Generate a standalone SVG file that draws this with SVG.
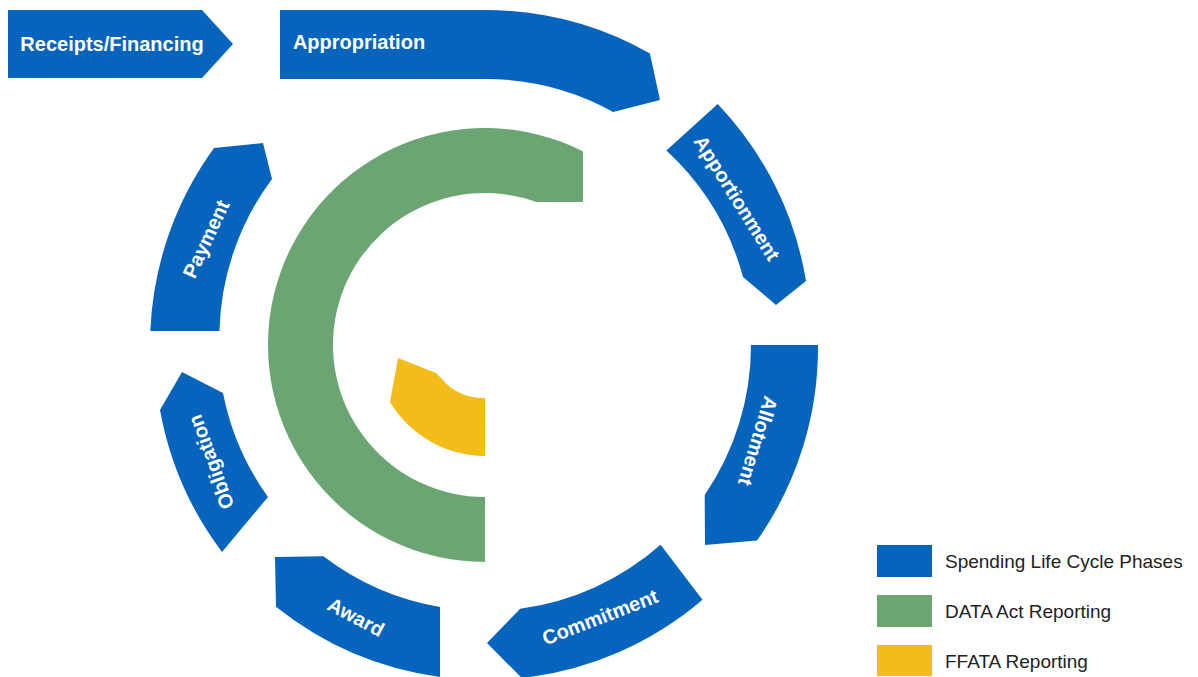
<svg xmlns="http://www.w3.org/2000/svg" width="1198" height="677" viewBox="0 0 1198 677">
<style>
.ph{fill:#0764BC;}
.da{fill:#6CA574;}
.ff{fill:#F2BC1B;}
.lb{font-family:"Liberation Sans",Arial,sans-serif;font-weight:bold;font-size:20px;fill:#FFFFFF;text-anchor:middle;dominant-baseline:central;}
.lg{font-family:"Liberation Sans",Arial,sans-serif;font-size:19px;fill:#222222;}
</style>
<rect width="1198" height="677" fill="#FFFFFF"/>
<g id="connectors"/>
<g id="receipts-financing">
<path class="ph" d="M8 10 L202 10 L233 44 L202 78 L8 78 Z"/>
<text class="lb" x="112" y="44" font-size="19.5">Receipts/Financing</text>
</g>
<g id="appropriation">
<path class="ph" d="M280 10 L485 10 A335 335 0 0 1 649.9 53.4 L660 100 L613.2 111.9 A266 266 0 0 0 485 79 L280 79 Z"/>
<text class="lb" x="359" y="42">Appropriation</text>
</g>
<g id="apportionment">
<path class="ph" d="M717.7 104 A335 335 0 0 1 806 281 L776 305 L743 277 A266 266 0 0 0 666.4 150.5 Z"/>
<text class="lb" transform="translate(737 198) rotate(58)">Apportionment</text>
</g>
<g id="allotment">
<path class="ph" d="M818 345 A335 335 0 0 1 757 540.5 L705 545 L704.7 494.9 A266 266 0 0 0 751 345 Z"/>
<text class="lb" transform="translate(758 441) rotate(107)">Allotment</text>
</g>
<g id="commitment">
<path class="ph" d="M702.5 599.7 A335 335 0 0 1 521.8 678 L487 643 L520.2 608.7 A266 266 0 0 0 660.6 544.8 Z"/>
<text class="lb" transform="translate(600 617) rotate(-21)">Commitment</text>
</g>
<g id="award">
<path class="ph" d="M440 677 A335 335 0 0 1 276 606.8 L275 557 L323.4 556.3 A266 266 0 0 0 440 607 Z"/>
<text class="lb" transform="translate(356 617) rotate(28)">Award</text>
</g>
<g id="obligation">
<path class="ph" d="M222 552 A335 335 0 0 1 160 410 L182 372 L223 393 A266 266 0 0 0 268 497 Z"/>
<text class="lb" transform="translate(211 462) rotate(-110)">Obligation</text>
</g>
<g id="payment">
<path class="ph" d="M150.3 331 A335 335 0 0 1 214 148 L263 143 L272 179 A266 266 0 0 0 219.4 331 Z"/>
<text class="lb" transform="translate(206 239) rotate(-65)">Payment</text>
</g>
<g id="data-act-reporting">
<path class="da" d="M485 562 A217 217 0 1 1 583 151.4 L583 202 L536.5 202 A152 152 0 1 0 485 497 Z"/>
</g>
<g id="ffata-reporting">
<path class="ff" d="M485 456 A111 111 0 0 1 390 402 L398 358 L436 373 L441 378 A53 53 0 0 0 485 398 Z"/>
</g>
<g id="legend">
<rect class="ph" x="877" y="545" width="55" height="32"/>
<text class="lg" x="945" y="568">Spending Life Cycle Phases</text>
<rect class="da" x="877" y="595" width="55" height="32"/>
<text class="lg" x="945" y="618">DATA Act Reporting</text>
<rect class="ff" x="877" y="645" width="55" height="31"/>
<text class="lg" x="945" y="668">FFATA Reporting</text>
</g>
</svg>
